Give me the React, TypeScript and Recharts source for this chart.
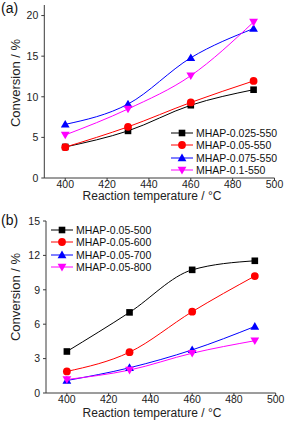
import React from "react";
import { LineChart, Line, XAxis, YAxis, Legend } from "recharts";

const temperatures = [400, 430, 460, 490];

// Panel (a)
const aNames = ["MHAP-0.025-550", "MHAP-0.05-550", "MHAP-0.075-550", "MHAP-0.1-550"];
const a025 = [3.82, 5.8, 8.96, 10.87];
const a05 = [3.8, 6.3, 9.3, 11.95];
const a075 = [6.6, 9.1, 14.8, 18.4];
const a01 = [5.3, 8.5, 12.6, 19.2];

// Panel (b)
const bNames = ["MHAP-0.05-500", "MHAP-0.05-600", "MHAP-0.05-700", "MHAP-0.05-800"];
const b500 = [3.62, 7.03, 10.74, 11.53];
const b600 = [1.88, 3.56, 7.09, 10.2];
const b700 = [1.09, 2.2, 3.76, 5.8];
const b800 = [1.18, 2.0, 3.47, 4.56];

const xTicks = [400, 420, 440, 460, 480, 500];
const xMinorTicks = [410, 430, 450, 470, 490];
const aYTicks = [0, 5, 10, 15, 20];
const aYMinor = [2.5, 7.5, 12.5, 17.5];
const bYTicks = [0, 3, 6, 9, 12, 15];
const bYMinor = [1.5, 4.5, 7.5, 10.5, 13.5];

const colors = ["#000000", "#ff0000", "#0000ff", "#ff00ff"];
const shapes = ["square", "circle", "up", "down"];
const FONT = "'Liberation Sans', Arial, sans-serif";
const AXIS = "#3a3a3a";

const buildRows = (series: number[][]) =>
  temperatures.map((t, i) => {
    const row: any = { t };
    series.forEach((s, k) => (row["s" + k] = s[i]));
    return row;
  });

const aData = buildRows([a025, a05, a075, a01]);
const bData = buildRows([b500, b600, b700, b800]);

function Marker({ cx, cy, shape, color }: any) {
  if (cx == null || cy == null) return null;
  if (shape === "square")
    return <rect x={cx - 3.3} y={cy - 3.3} width={6.6} height={6.6} fill={color} />;
  if (shape === "circle") return <circle cx={cx} cy={cy} r={3.9} fill={color} />;
  if (shape === "up")
    return <polygon points={`${cx},${cy - 4.4} ${cx - 4.4},${cy + 3.2} ${cx + 4.4},${cy + 3.2}`} fill={color} />;
  return <polygon points={`${cx - 4.4},${cy - 3.2} ${cx + 4.4},${cy - 3.2} ${cx},${cy + 4.4}`} fill={color} />;
}

function LegendBox({ names }: { names: string[] }) {
  return (
    <div style={{ fontFamily: FONT, fontSize: 10.5, color: "#111" }}>
      {names.map((n, i) => (
        <div key={n} style={{ display: "flex", alignItems: "center", height: 12.3 }}>
          <svg width={25} height={12} style={{ display: "block" }}>
            <line x1={0} y1={6} x2={22} y2={6} stroke={colors[i]} strokeWidth={1} />
            <Marker cx={11} cy={6} shape={shapes[i]} color={colors[i]} />
          </svg>
          <span style={{ whiteSpace: "nowrap", lineHeight: "12.3px" }}>{n}</span>
        </div>
      ))}
    </div>
  );
}

function Panel({
  data, names, yDomain, yTicks, yMinor, margin, yWidth, xHeight, letter, letterY, yLabelY, xLabelY, legendPos,
}: any) {
  const tickStyle = { fontSize: 10.5, fill: "#222", fontFamily: FONT };
  return (
    <LineChart width={287} height={211} data={data} margin={margin}>
      <XAxis
        dataKey="t" type="number" domain={[390, 500]} ticks={xTicks} allowDataOverflow
        height={xHeight} tickSize={3} tickMargin={0} stroke={AXIS} tick={tickStyle}
        label={{
          content: () => (
            <text x={152} y={xLabelY} textAnchor="middle" fontSize={12} fontFamily={FONT} fill="#222">
              Reaction temperature / °C
            </text>
          ),
        }}
      />
      <XAxis xAxisId="minor" dataKey="t" type="number" domain={[390, 500]} ticks={xMinorTicks}
        mirror axisLine={false} tick={false} tickSize={2} stroke={AXIS} />
      <XAxis xAxisId="top" orientation="top" type="number" domain={[390, 500]} height={0}
        tick={false} tickLine={false} stroke={AXIS} />
      <YAxis
        type="number" domain={yDomain} ticks={yTicks} allowDataOverflow width={yWidth}
        tickSize={3} tickMargin={3} stroke={AXIS} tick={tickStyle}
        label={{
          content: () => (
            <text x={15} y={yLabelY} textAnchor="middle" dominantBaseline="central"
              transform={`rotate(-90 15 ${yLabelY})`} fontSize={13} fontFamily={FONT} fill="#222">
              Conversion / %
            </text>
          ),
        }}
      />
      <YAxis yAxisId="minorY" type="number" domain={yDomain} ticks={yMinor} mirror
        axisLine={false} tick={false} tickSize={2} stroke={AXIS} />
      <YAxis yAxisId="right" orientation="right" type="number" domain={yDomain} width={0}
        tick={false} tickLine={false} stroke={AXIS} />
      {colors.map((c, k) => (
        <Line
          key={k} type="monotone" dataKey={"s" + k} name={names[k]} stroke={c} strokeWidth={1}
          isAnimationActive={false}
          dot={(p: any) => <Marker key={p.index} cx={p.cx} cy={p.cy} shape={shapes[k]} color={c} />}
          activeDot={false}
        />
      ))}
      <Legend
        layout="vertical" align="center" verticalAlign="middle"
        wrapperStyle={{ position: "absolute", left: legendPos[0], top: legendPos[1], width: 115, height: 50 }}
        content={() => <LegendBox names={names} />}
      />
      <text x={1} y={letterY} fontSize={14} fontFamily={FONT} fill="#111">{letter}</text>
    </LineChart>
  );
}

export default function App() {
  return (
    <div style={{ position: "absolute", left: 0, top: 0, width: 287, height: 422, background: "#fff" }}>
      <div style={{ position: "absolute", left: 0, top: 0 }}>
        <Panel
          data={aData} names={aNames} yDomain={[0, 21.3]} yTicks={aYTicks} yMinor={aYMinor}
          margin={{ top: 5, right: 12.5, left: 0, bottom: 0 }} yWidth={44.3} xHeight={33}
          letter="(a)" letterY={12.5} yLabelY={83} xLabelY={200} legendPos={[171, 127]}
        />
      </div>
      <div style={{ position: "absolute", left: 0, top: 211 }}>
        <Panel
          data={bData} names={bNames} yDomain={[0, 15]} yTicks={bYTicks} yMinor={bYMinor}
          margin={{ top: 10, right: 11.3, left: 0, bottom: 0 }} yWidth={46} xHeight={29}
          letter="(b)" letterY={14} yLabelY={86} xLabelY={205.5} legendPos={[51, 13]}
        />
      </div>
    </div>
  );
}
